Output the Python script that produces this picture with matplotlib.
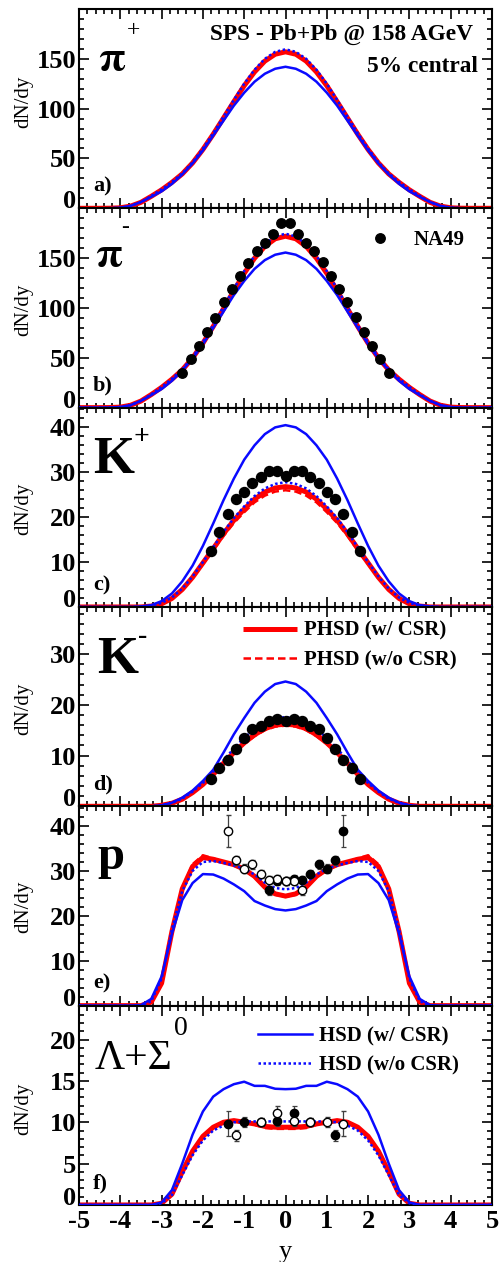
import numpy as np
import matplotlib
matplotlib.use("Agg")
import matplotlib.pyplot as plt
from matplotlib.ticker import MultipleLocator, FixedLocator

plt.rcParams["font.family"] = ["Liberation Serif", "DejaVu Serif"]
plt.rcParams["font.weight"] = "bold"
plt.rcParams["axes.unicode_minus"] = False

# rapidity grid of the model curves (-5 ... 5, step 0.25)
y_grid = np.linspace(-5, 5, 41)

# ---------------- pi+ ----------------
pip_phsd = [0, 0, 0, 0.1, 0.5, 2.2, 6, 12, 18.5, 26, 34.5, 45.5, 59, 74.3, 90.6, 107, 123, 136.8, 147.7, 154.6, 157,
            154.6, 147.7, 136.8, 123, 107, 90.6, 74.3, 59, 45.5, 34.5, 26, 18.5, 12, 6, 2.2, 0.5, 0.1, 0, 0, 0]
pip_phsd_nocsr = pip_phsd
pip_hsd = [0, 0, 0, 0.1, 0.6, 2.4, 6.3, 11.5, 17, 24.5, 34, 45, 58, 73, 88, 103, 116, 127, 135, 140, 142,
           140, 135, 127, 116, 103, 88, 73, 58, 45, 34, 24.5, 17, 11.5, 6.3, 2.4, 0.6, 0.1, 0, 0, 0]
pip_hsd_nocsr = [0, 0, 0, 0.1, 0.6, 2.4, 6.3, 12.4, 19, 26.5, 35, 46.2, 60, 75.4, 92, 108.7, 125, 139, 150, 157, 159.5,
                 157, 150, 139, 125, 108.7, 92, 75.4, 60, 46.2, 35, 26.5, 19, 12.4, 6.3, 2.4, 0.6, 0.1, 0, 0, 0]

# ---------------- pi- ----------------
pim_phsd = [0, 0, 0, 0.1, 0.5, 2.4, 6.6, 13.1, 20.3, 28.5, 37.8, 49.8, 64.6, 81.4, 99.3, 117.2, 134.7, 149.9, 161.8, 169.4, 172,
            169.4, 161.8, 149.9, 134.7, 117.2, 99.3, 81.4, 64.6, 49.8, 37.8, 28.5, 20.3, 13.1, 6.6, 2.4, 0.5, 0.1, 0, 0, 0]
pim_phsd_nocsr = pim_phsd
pim_hsd = [0, 0, 0, 0.1, 0.6, 2.5, 6.8, 12.6, 18.6, 26.9, 37.3, 49.3, 63.6, 80, 96.4, 112.9, 127.1, 139.2, 148, 153.4, 155.6,
           153.4, 148, 139.2, 127.1, 112.9, 96.4, 80, 63.6, 49.3, 37.3, 26.9, 18.6, 12.6, 6.8, 2.5, 0.6, 0.1, 0, 0, 0]
pim_hsd_nocsr = [0, 0, 0, 0.1, 0.6, 2.5, 6.8, 13.4, 20.7, 29, 38.5, 50.7, 65.8, 83, 101.2, 119.3, 137, 152.2, 164, 171.8, 174.5,
                 171.8, 164, 152.2, 137, 119.3, 101.2, 83, 65.8, 50.7, 38.5, 29, 20.7, 13.4, 6.8, 2.5, 0.6, 0.1, 0, 0, 0]
pim_data_y = [-2.5, -2.3, -2.1, -1.9, -1.7, -1.5, -1.3, -1.1, -0.9, -0.7, -0.5, -0.3, -0.1,
              0.1, 0.3, 0.5, 0.7, 0.9, 1.1, 1.3, 1.5, 1.7, 1.9, 2.1, 2.3, 2.5]
pim_data = [35, 49, 62, 75.6, 90, 106, 119, 131.6, 145.6, 157.6, 165.6, 174, 185,
            185, 174, 165.6, 157.6, 146, 131.6, 119, 106, 91, 76, 62, 49, 35]

# ---------------- K+ ----------------
kp_phsd = [0, 0, 0, 0, 0, 0, 0, 0.2, 0.7, 1.9, 3.9, 6.6, 9.8, 13, 16.3, 19.3, 21.8, 24, 25.6, 26.5, 26.8,
           26.5, 25.6, 24, 21.8, 19.3, 16.3, 13, 9.8, 6.6, 3.9, 1.9, 0.7, 0.2, 0, 0, 0, 0, 0, 0, 0]
kp_phsd_nocsr = [0, 0, 0, 0, 0, 0, 0, 0.2, 0.7, 1.8, 3.8, 6.4, 9.5, 12.6, 15.8, 18.7, 21.1, 23.3, 24.8, 25.7, 26,
                 25.7, 24.8, 23.3, 21.1, 18.7, 15.8, 12.6, 9.5, 6.4, 3.8, 1.8, 0.7, 0.2, 0, 0, 0, 0, 0, 0, 0]
kp_hsd = [0, 0, 0, 0, 0, 0, 0.1, 0.4, 1.3, 3, 5.7, 9.2, 13.6, 18.6, 23.8, 28.6, 32.8, 36, 38.5, 40, 40.5,
          40, 38.5, 36, 32.8, 28.6, 23.8, 18.6, 13.6, 9.2, 5.7, 3, 1.3, 0.4, 0.1, 0, 0, 0, 0, 0, 0]
kp_hsd_nocsr = [0, 0, 0, 0, 0, 0, 0.1, 0.3, 0.9, 2.1, 4.1, 6.8, 10, 13.3, 16.7, 19.8, 22.4, 24.7, 26.4, 27.4, 27.8,
                27.4, 26.4, 24.7, 22.4, 19.8, 16.7, 13.3, 10, 6.8, 4.1, 2.1, 0.9, 0.3, 0.1, 0, 0, 0, 0, 0, 0]
k_data_y = [-1.8, -1.6, -1.4, -1.2, -1.0, -0.8, -0.6, -0.4, -0.2, 0.0,
            0.2, 0.4, 0.6, 0.8, 1.0, 1.2, 1.4, 1.6, 1.8]
kp_data = [12.5, 16.6, 20.8, 24, 25.6, 27.6, 28.9, 30.3, 30.3, 29.1,
           30.3, 30.3, 28.9, 27.6, 25.6, 24, 20.8, 16.6, 12.5]

# ---------------- K- ----------------
km_phsd = [0, 0, 0, 0, 0, 0, 0, 0, 0.2, 0.6, 1.4, 2.7, 4.3, 6.3, 8.5, 10.6, 12.5, 14.1, 15.3, 16, 16.2,
           16, 15.3, 14.1, 12.5, 10.6, 8.5, 6.3, 4.3, 2.7, 1.4, 0.6, 0.2, 0, 0, 0, 0, 0, 0, 0, 0]
km_phsd_nocsr = [0, 0, 0, 0, 0, 0, 0, 0, 0.2, 0.6, 1.4, 2.6, 4.2, 6.2, 8.3, 10.4, 12.3, 13.8, 15, 15.7, 15.9,
                 15.7, 15, 13.8, 12.3, 10.4, 8.3, 6.2, 4.2, 2.6, 1.4, 0.6, 0.2, 0, 0, 0, 0, 0, 0, 0, 0]
km_hsd = [0, 0, 0, 0, 0, 0, 0, 0, 0.2, 0.7, 1.7, 3.1, 5, 7.2, 10.6, 14.2, 17.4, 20.4, 22.6, 24.1, 24.6,
          24.1, 22.6, 20.4, 17.4, 14.2, 10.6, 7.2, 5, 3.1, 1.7, 0.7, 0.2, 0, 0, 0, 0, 0, 0, 0, 0]
km_hsd_nocsr = [0, 0, 0, 0, 0, 0, 0, 0, 0.2, 0.7, 1.5, 2.9, 4.6, 6.8, 9.1, 11.4, 13.5, 15.2, 16.5, 17.3, 17.6,
                17.3, 16.5, 15.2, 13.5, 11.4, 9.1, 6.8, 4.6, 2.9, 1.5, 0.7, 0.2, 0, 0, 0, 0, 0, 0, 0, 0]
km_data = [5.4, 7.5, 9.2, 11.2, 13.5, 15.2, 15.8, 16.8, 17.2, 16.8,
           17.2, 16.8, 15.8, 15.2, 13.5, 11.2, 9.2, 7.5, 5.4]

# ---------------- protons ----------------
p_phsd = [0, 0, 0, 0, 0, 0, 0, 0.8, 5, 16.5, 26, 31, 33, 32.6, 32, 31.4, 30.4, 28.8, 26.4, 24.9, 24.4,
          24.9, 26.4, 28.8, 30.4, 31.4, 32, 32.6, 33, 31, 26, 16.5, 5, 0.8, 0, 0, 0, 0, 0, 0, 0]
p_phsd_nocsr = [0, 0, 0, 0, 0, 0, 0, 0.8, 5, 16.5, 26.2, 31.5, 33.5, 32.8, 32, 31.2, 30.2, 28.6, 26.3, 24.7, 24.2,
                24.7, 26.3, 28.6, 30.2, 31.2, 32, 32.8, 33.5, 31.5, 26.2, 16.5, 5, 0.8, 0, 0, 0, 0, 0, 0, 0]
p_hsd = [0, 0, 0, 0, 0, 0, 0.1, 1.5, 6.5, 16, 23.5, 27.3, 29.3, 29.2, 28.3, 27, 25.5, 23.3, 22.3, 21.5, 21.2,
         21.5, 22.3, 23.3, 25.5, 27, 28.3, 29.2, 29.3, 27.3, 23.5, 16, 6.5, 1.5, 0.1, 0, 0, 0, 0, 0, 0]
p_hsd_nocsr = [0, 0, 0, 0, 0, 0, 0, 1, 6, 17, 25.5, 30, 32, 32.2, 31.8, 31.2, 30.5, 29.2, 27.4, 26.2, 25.9,
               26.2, 27.4, 29.2, 30.5, 31.2, 31.8, 32.2, 32, 30, 25.5, 17, 6, 1, 0, 0, 0, 0, 0, 0, 0]
p_meas_y = [-0.4, -0.2, 0.0, 0.2, 0.4, 0.6, 0.8, 1.0, 1.2, 1.4]
p_meas = [25.7, 27.8, 27.8, 28.1, 28.0, 29.3, 31.5, 30.5, 32.4, 38.9]
p_meas_err = [1.0, 0.9, 0.9, 0.9, 0.9, 0.9, 1.0, 1.0, 1.0, 3.5]
p_refl_y = [0.4, 0.2, 0.0, -0.2, -0.4, -0.6, -0.8, -1.0, -1.2, -1.4]

# ---------------- Lambda + Sigma0 ----------------
lam_phsd = [0, 0, 0, 0, 0, 0, 0, 0, 0.2, 1.3, 4, 6.5, 8.3, 9.4, 10, 10.2, 10, 9.8, 9.5, 9.4, 9.4,
            9.4, 9.5, 9.8, 10, 10.2, 10, 9.4, 8.3, 6.5, 4, 1.3, 0.2, 0, 0, 0, 0, 0, 0, 0, 0]
lam_phsd_nocsr = [0, 0, 0, 0, 0, 0, 0, 0, 0.2, 1.3, 4, 6.5, 8.3, 9.4, 10, 10.1, 10, 9.7, 9.3, 9.2, 9.2,
                  9.2, 9.3, 9.7, 10, 10.1, 10, 9.4, 8.3, 6.5, 4, 1.3, 0.2, 0, 0, 0, 0, 0, 0, 0, 0]
lam_hsd = [0, 0, 0, 0, 0, 0, 0, 0, 0.3, 1.8, 5, 8.5, 11.3, 13.1, 14, 14.6, 14.9, 14.4, 14.4, 14.05, 14,
           14.05, 14.4, 14.4, 14.9, 14.6, 14, 13.1, 11.3, 8.5, 5, 1.8, 0.3, 0, 0, 0, 0, 0, 0, 0, 0]
lam_hsd_nocsr = [0, 0, 0, 0, 0, 0, 0, 0, 0.2, 1.2, 3.6, 6, 7.8, 9, 9.6, 10, 10.1, 10.1, 10.1, 10.1, 10.1,
                 10.1, 10.1, 10.1, 10.1, 10, 9.6, 9, 7.8, 6, 3.6, 1.2, 0.2, 0, 0, 0, 0, 0, 0, 0, 0]
lam_meas_y = [-1.4, -1.0, -0.6, -0.2, 0.2, 0.6, 1.2]
lam_meas = [9.8, 10.0, 10.0, 10.2, 11.1, 10.0, 8.4]
lam_meas_err = [1.5, 0.6, 0.5, 0.7, 0.9, 0.5, 0.7]
lam_refl_y = [1.4, 1.0, 0.6, 0.2, -0.2, -0.6, -1.2]

RED = "#ff0000"
BLUE = "#0a0aff"

panels = [
    dict(curves=(pip_phsd, pip_phsd_nocsr, pip_hsd, pip_hsd_nocsr), ylim=200, yticks=[0, 50, 100, 150], minor=10,
         letter="a)", ylab_y=0.535),
    dict(curves=(pim_phsd, pim_phsd_nocsr, pim_hsd, pim_hsd_nocsr), ylim=200, yticks=[0, 50, 100, 150], minor=10,
         letter="b)", ylab_y=0.49),
    dict(curves=(kp_phsd, kp_phsd_nocsr, kp_hsd, kp_hsd_nocsr), ylim=44.4, yticks=[0, 10, 20, 30, 40], minor=2,
         letter="c)", ylab_y=0.49),
    dict(curves=(km_phsd, km_phsd_nocsr, km_hsd, km_hsd_nocsr), ylim=39.3, yticks=[0, 10, 20, 30], minor=2,
         letter="d)", ylab_y=0.49),
    dict(curves=(p_phsd, p_phsd_nocsr, p_hsd, p_hsd_nocsr), ylim=44.4, yticks=[0, 10, 20, 30, 40], minor=2,
         letter="e)", ylab_y=0.495),
    dict(curves=(lam_phsd, lam_phsd_nocsr, lam_hsd, lam_hsd_nocsr), ylim=24.1, yticks=[0, 5, 10, 15, 20], minor=1,
         letter="f)", ylab_y=0.48),
]

fig = plt.figure(figsize=(5, 12.62), dpi=100)
axes = fig.subplots(6, 1, sharex=True, gridspec_kw={"hspace": 0})
fig.subplots_adjust(left=0.158, right=0.984, top=0.9929, bottom=0.0452)

for ax, cfg in zip(axes, panels):
    phsd, phsd_nocsr, hsd, hsd_nocsr = cfg["curves"]
    l1, = ax.plot(y_grid, phsd, color=RED, lw=3.6, solid_capstyle="butt", label="PHSD (w/ CSR)", zorder=2)
    l2, = ax.plot(y_grid, phsd_nocsr, color=RED, lw=1.8, dashes=(3, 1.6), label="PHSD (w/o CSR)", zorder=2)
    l3, = ax.plot(y_grid, hsd, color=BLUE, lw=1.8, label="HSD (w/ CSR)", zorder=3)
    l4, = ax.plot(y_grid, hsd_nocsr, color=BLUE, lw=1.8, dashes=(1, 1), label="HSD (w/o CSR)", zorder=3)
    cfg["lines"] = (l1, l2, l3, l4)

    ax.set_xlim(-5, 5)
    ax.set_ylim(0, cfg["ylim"])
    ax.xaxis.set_major_locator(MultipleLocator(1))
    ax.xaxis.set_minor_locator(MultipleLocator(0.2))
    ax.yaxis.set_major_locator(FixedLocator(cfg["yticks"]))
    ax.yaxis.set_minor_locator(MultipleLocator(cfg["minor"]))
    ax.tick_params(which="both", direction="in", top=True, right=True, width=1.2, labelsize=19)
    ax.tick_params(which="major", length=7)
    ax.tick_params(which="minor", length=3.5)
    ax.tick_params(axis="y", pad=2)
    for s in ax.spines.values():
        s.set_linewidth(1.5)
    # the "0" label sits just above the panel bottom, as in the stacked original
    ax.yaxis.get_major_ticks()[0].label1.set_verticalalignment("baseline")

    ax.set_ylabel("dN/dy", fontsize=15)
    ax.yaxis.set_label_coords(-0.111, cfg["ylab_y"])
    ax.text(0.034, 0.085, cfg["letter"], transform=ax.transAxes, fontsize=16, va="baseline")

# particle labels
ax_a, ax_b, ax_c, ax_d, ax_e, ax_f = axes
ax_a.text(0.046, 0.695, r"$\mathrm{\pi}$", transform=ax_a.transAxes, fontsize=31, math_fontfamily="stix")
ax_a.text(0.133, 0.89, "+", transform=ax_a.transAxes, fontsize=17, fontweight="normal", ha="center", va="center")
ax_b.text(0.039, 0.709, r"$\mathrm{\pi}$", transform=ax_b.transAxes, fontsize=31, math_fontfamily="stix")
ax_b.text(0.112, 0.905, "-", transform=ax_b.transAxes, fontsize=17, fontweight="normal", ha="center", va="center")
ax_c.text(0.034, 0.674, "K", transform=ax_c.transAxes, fontsize=38)
ax_c.text(0.150, 0.85, "+", transform=ax_c.transAxes, fontsize=20, ha="center", va="center")
ax_d.text(0.044, 0.671, "K", transform=ax_d.transAxes, fontsize=38)
ax_d.text(0.153, 0.853, "-", transform=ax_d.transAxes, fontsize=20, ha="center", va="center")
ax_e.text(0.044, 0.686, "p", transform=ax_e.transAxes, fontsize=35)
ax_f.text(0.039, 0.68, "Λ+Σ", transform=ax_f.transAxes, fontsize=30, fontweight="normal")
ax_f.text(0.246, 0.884, "0", transform=ax_f.transAxes, fontsize=20, fontweight="normal", ha="center", va="center")

ax_a.text(0.954, 0.845, "SPS - Pb+Pb @ 158 AGeV", transform=ax_a.transAxes, fontsize=16.8, ha="right")
ax_a.text(0.966, 0.685, "5% central", transform=ax_a.transAxes, fontsize=16.8, ha="right")

# data: NA49
na49, = ax_b.plot(pim_data_y, pim_data, "o", color="black", ms=6.8, zorder=5, label="NA49")
ax_c.plot(k_data_y, kp_data, "o", color="black", ms=7.2, zorder=5)
ax_d.plot(k_data_y, km_data, "o", color="black", ms=7.2, zorder=5)

ebkw = dict(fmt="o", ms=6, ecolor="0.25", elinewidth=0.9, capsize=1.8, capthick=0.9, zorder=5)
ax_e.errorbar(p_meas_y, p_meas, yerr=p_meas_err, color="black", mfc="black", mec="black", **ebkw)
ax_e.errorbar(p_refl_y, p_meas, yerr=p_meas_err, color="black", mfc="white", mec="black", mew=1.0, **ebkw)
ax_f.errorbar(lam_meas_y, lam_meas, yerr=lam_meas_err, color="black", mfc="black", mec="black", **ebkw)
ax_f.errorbar(lam_refl_y, lam_meas, yerr=lam_meas_err, color="black", mfc="white", mec="black", mew=1.0, **ebkw)

# legends
legkw = dict(frameon=False, fontsize=15, borderpad=0, borderaxespad=0, handletextpad=0.35,
             labelspacing=0.44, handlelength=2.6, loc="upper left")
ax_b.legend(handles=[na49], bbox_to_anchor=(0.678, 0.89), frameon=False, fontsize=15, borderpad=0,
            borderaxespad=0, handletextpad=0.6, handlelength=2.0, numpoints=1, loc="upper left")
ax_d.legend(handles=list(panels[3]["lines"][:2]), bbox_to_anchor=(0.397, 0.93), **legkw)
ax_f.legend(handles=list(panels[5]["lines"][2:]), bbox_to_anchor=(0.433, 0.895), **legkw)

ax_f.set_xlabel("y", fontsize=19, labelpad=6)

fig.savefig("out.png", dpi=100)
